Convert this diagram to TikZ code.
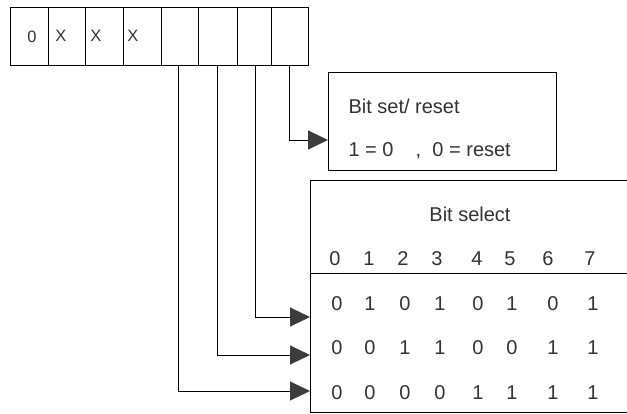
\documentclass[tikz,border=0pt]{standalone}
\usepackage{fontspec}
\setmainfont{Liberation Sans}
\usetikzlibrary{arrows.meta}
\definecolor{ink}{HTML}{333333}
\definecolor{tipgray}{HTML}{3C3C3C}
\begin{document}
\begin{tikzpicture}[x=1pt,y=-1pt,line width=1pt,
  cell/.style={draw,minimum height=58pt,inner sep=0pt,anchor=north west},
  reglabel/.style={text=ink,font=\fontsize{16.5}{18}\selectfont,inner sep=0pt},
  txt/.style={text=ink,font=\fontsize{20}{22}\selectfont,inner sep=0pt},
  feed/.style={-{Triangle[length=20pt,width=19pt,color=tipgray]}}]
\useasboundingbox (0,0) rectangle (627,413);
\clip (0,0) rectangle (627,413);
\fill[white] (0,0) rectangle (627,413);

% 8-bit control word
\node[cell,minimum width=38pt] (c1) at (10,7) {};
\node[cell,minimum width=37pt] (c2) at (48,7) {};
\node[cell,minimum width=38pt] (c3) at (85,7) {};
\node[cell,minimum width=38pt] (c4) at (123,7) {};
\node[cell,minimum width=37pt] (c5) at (161,7) {};
\node[cell,minimum width=39pt] (c6) at (198,7) {};
\node[cell,minimum width=34pt] (c7) at (237,7) {};
\node[cell,minimum width=37pt] (c8) at (271,7) {};
\node[reglabel] (l1) at (32,37) {0};
\node[reglabel] (l2) at (61,36) {X};
\node[reglabel] (l3) at (96,36) {X};
\node[reglabel] (l4) at (133,36) {X};

% Bit set/reset box
\node[draw,minimum width=228pt,minimum height=98pt,anchor=north west] (bsr) at (328,72) {};
\node[txt,anchor=west] (bsrt) at (348,106) {Bit set/ reset};
\node[txt,anchor=west] (bsrv) at (348,151) {1 = 0 \ \ \ , \ 0 = reset};

% Bit select table
\node[draw,minimum width=340pt,minimum height=232pt,anchor=north west] (sel) at (310,180) {};
\draw (310,273) -- (640,273);
\node[txt] (selt) at (470,214) {Bit select};
\foreach \d/\x in {0/335,1/369,2/403,3/437,4/477,5/510,6/548,7/590}
  \node[txt] (h\d) at (\x,259) {\d};
\foreach \d/\x/\a/\b/\c in {0/337/0/0/0,1/370/1/0/0,2/405/0/1/0,3/440/1/1/0,
                            4/478/0/0/1,5/512/1/0/1,6/553/0/1/1,7/593/1/1/1}{
  \node[txt] (ra\d) at (\x,304) {\a};
  \node[txt] (rb\d) at (\x,348) {\b};
  \node[txt] (rc\d) at (\x,393) {\c};
}

% feed lines from the low bits
\coordinate (s8) at (289,65);
\coordinate (s7) at (255,65);
\coordinate (s6) at (217,65);
\coordinate (s5) at (178,65);
\coordinate (e8) at (328,140);
\coordinate (e7) at (310,317);
\coordinate (e6) at (310,355);
\coordinate (e5) at (310,391);
\draw[feed] (s8) |- (e8);
\draw[feed] (s7) |- (e7);
\draw[feed] (s6) |- (e6);
\draw[feed] (s5) |- (e5);
\end{tikzpicture}
\end{document}
